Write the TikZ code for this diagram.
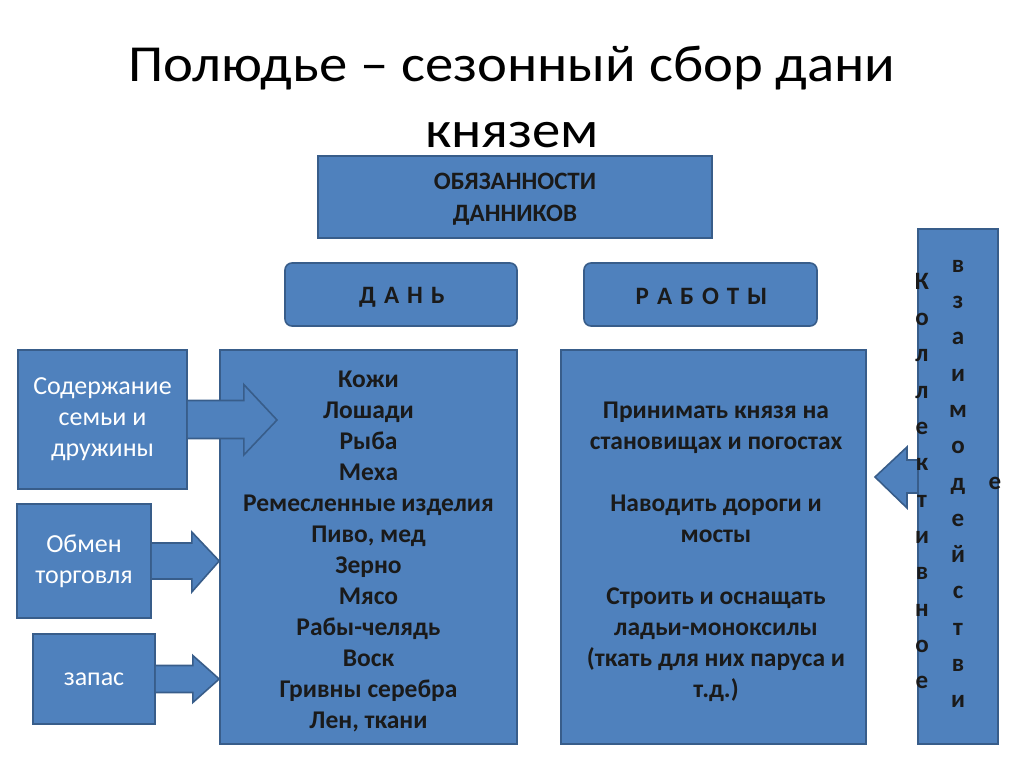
\documentclass[tikz,border=0pt]{standalone}
\usepackage{fontspec}
\setmainfont{Carlito}
\newfontfamily\titlefont[FakeStretch=1.09]{Carlito}
\usetikzlibrary{calc}
\definecolor{blu}{HTML}{4F81BD}
\definecolor{bord}{HTML}{385D8A}
\definecolor{ink}{HTML}{1A1A1A}
\newcommand\lsp{\hspace{8pt}}
\tikzset{
  x=1pt,y=-1pt,
  box/.style={draw=bord, fill=blu, line width=1.6pt, inner sep=0pt, align=center},
  rbox/.style={box, rounded corners=7pt},
  btxt/.style={font=\fontsize{25.5}{31}\selectfont\bfseries, text=ink},
  htxt/.style={font=\fontsize{25}{32}\selectfont\bfseries, text=ink},
  wtxt/.style={font=\fontsize{26}{31}\selectfont, text=white},
  barrow/.style={draw=bord, fill=blu, line width=1.6pt, line join=miter},
  vtxt/.style={font=\fontsize{25}{36.3}\selectfont\bfseries, text=ink, align=center, inner sep=0pt}
}
\begin{document}
\begin{tikzpicture}
\useasboundingbox (0,0) rectangle (1024,767);
% title
\node[font=\titlefont\fontsize{52}{66}\selectfont, align=center, text=black] (title) at (512,97)
  {Полюдье – сезонный сбор дани\\князем};
% top boxes
\node[box, minimum width=394, minimum height=82] (obyaz) at (515,197) {};
\node[htxt, align=center] (obyazt) at (515,199) {ОБЯЗАННОСТИ\\ДАННИКОВ};
\node[rbox, minimum width=232, minimum height=63] (dan) at (401,294.5) {};
\node[htxt] (dant) at (402,297) {Д\lsp А\lsp Н\lsp Ь};
\node[rbox, minimum width=233, minimum height=63] (rab) at (700.5,294.5) {};
\node[htxt] (rabt) at (701.5,296) {Р\lsp А\lsp Б\lsp О\lsp Т\lsp Ы};
% big boxes
\node[box, minimum width=297, minimum height=394] (danlist) at (368.5,547) {};
\node[btxt, align=center] (danlistt) at (368.5,551)
  {Кожи\\Лошади\\Рыба\\Меха\\Ремесленные изделия\\Пиво, мед\\Зерно\\Мясо\\Рабы-челядь\\Воск\\Гривны серебра\\Лен, ткани};
\node[box, minimum width=305, minimum height=394] (rablist) at (713.5,547) {};
\node[btxt, align=center] (rablistt) at (716,552)
  {Принимать князя на\\становищах и погостах\\[31pt]Наводить дороги и\\мосты\\[31pt]Строить и оснащать\\ладьи-моноксилы\\(ткать для них паруса и\\т.д.)};
% left boxes
\node[box, wtxt, minimum width=169, minimum height=139] (sod) at (102.5,419.5) {Содержание\\семьи и\\дружины};
\node[box, wtxt, minimum width=134, minimum height=114] (obmen) at (84,561) {Обмен\\торговля};
\node[box, wtxt, minimum width=122, minimum height=90] (zapas) at (94,679) {запас};
% block arrows into the tribute list
\coordinate (tip1) at (277,420);
\coordinate (tip2) at (danlist.west |- obmen.east);
\coordinate (tip3) at (danlist.west |- zapas.east);
\draw[barrow] ($(sod.east)+(0,-19)$) -- ++(56,0) -- ++(0,-16) -- (tip1)
  -- ($(sod.east)+(56,35.5)$) -- ++(0,-16.5) -- ($(sod.east)+(0,19)$);
\draw[barrow] ($(obmen.east)+(0,-18)$) -- ++(40,0) -- ++(0,-11) -- (tip2)
  -- ($(obmen.east)+(40,31)$) -- ++(0,-13) -- ($(obmen.east)+(0,18)$);
\draw[barrow] ($(zapas.east)+(0,-13.5)$) -- ++(37,0) -- ++(0,-10) -- (tip3)
  -- ($(zapas.east)+(37,23.5)$) -- ++(0,-10) -- ($(zapas.east)+(0,13.5)$);
% right tall box and its arrow
\coordinate (tipR) at (875,477);
\draw[barrow] (922,460) -- (907,460) -- (907,447) -- (tipR) -- (907,508) -- (907,493) -- (922,493);
\node[box, minimum width=80, minimum height=515] (vbox) at (958,486.5) {};
\node[vtxt] (kol) at (922,481) {К\\о\\л\\л\\е\\к\\т\\и\\в\\н\\о\\е};
\node[vtxt] (vzai) at (958,484) {в\\з\\а\\и\\м\\о\\д\\е\\й\\с\\т\\в\\и};
\node[vtxt] (vze) at (995,483) {е};
\end{tikzpicture}
\end{document}
